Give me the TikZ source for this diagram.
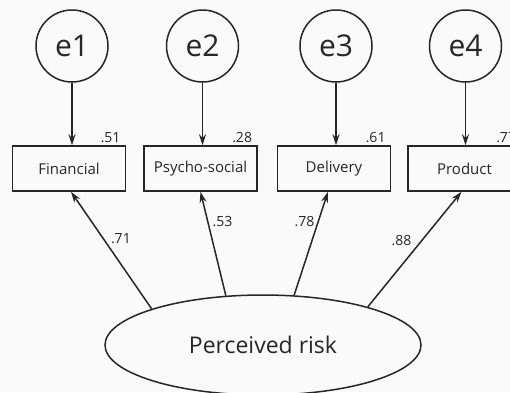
\documentclass[tikz,border=0pt]{standalone}
\usepackage{fontspec}
\setmainfont{Open Sans}
\usetikzlibrary{positioning,shapes.geometric,arrows.meta}

\begin{document}
\begin{tikzpicture}
[x=1pt,y=1pt,line width=1.5pt,draw=black!85,text=black!85,
 err/.style={draw,circle,minimum size=72pt,inner sep=0pt,font=\fontsize{30}{34}\selectfont},
 item/.style={draw,rectangle,minimum width=113pt,minimum height=45pt,inner sep=0pt,font=\fontsize{15}{18}\selectfont},
 coef/.style={font=\fontsize{14}{16}\selectfont,inner sep=2pt},
 path/.style={-{Stealth[length=11pt,width=7pt]}}]
\useasboundingbox[fill=black!2] (0,0) rectangle (510,-392);
\node[err] (e1) at (72,-46) {e1};
\node[err, right=57pt of e1] (e2) {e2};
\node[err, right=60pt of e2] (e3) {e3};
\node[err, right=56pt of e3] (e4) {e4};
\node[item, below=62.5pt of e1, xshift=-3pt] (fin) {Financial};
\node[item, below=62.5pt of e2, xshift=-2pt] (psy) {Psycho-social};
\node[item, below=62.5pt of e3, xshift=-2pt] (del) {Delivery};
\node[item, below=62.5pt of e4, xshift=-1pt] (prod) {Product};
\node[draw,ellipse,minimum width=316pt,minimum height=100pt,
  font=\fontsize{23}{28}\selectfont] (risk) at (263,-345) {Perceived risk};
% squared multiple correlations
\node[coef, above left=0pt and 3pt of fin.north east] {.51};
\node[coef, above left=0pt and 3pt of psy.north east] {.28};
\node[coef, above left=0pt and 3pt of del.north east] {.61};
\node[coef, above left=0pt and 3pt of prod.north east] {.77};
% errors
\draw[path] (e1) -- (e1 |- fin.north);
\draw[path] (e2) -- (e2 |- psy.north);
\draw[path] (e3) -- (e3 |- del.north);
\draw[path] (e4) -- (e4 |- prod.north);
% loadings
\draw[path] (risk.162) -- node[coef,pos=0.6,right=5pt]{.71} ([xshift=2pt]fin.south);
\draw[path] (risk.127) -- node[coef,pos=0.71,right=2pt]{.53} (psy.south);
\draw[path] (risk.58) -- node[coef,pos=0.71,left=1pt]{.78} ([xshift=-6pt]del.south);
\draw[path] (risk.20) -- node[coef,pos=0.58,left=8pt]{.88} ([xshift=-3pt]prod.south);
\end{tikzpicture}
\end{document}
